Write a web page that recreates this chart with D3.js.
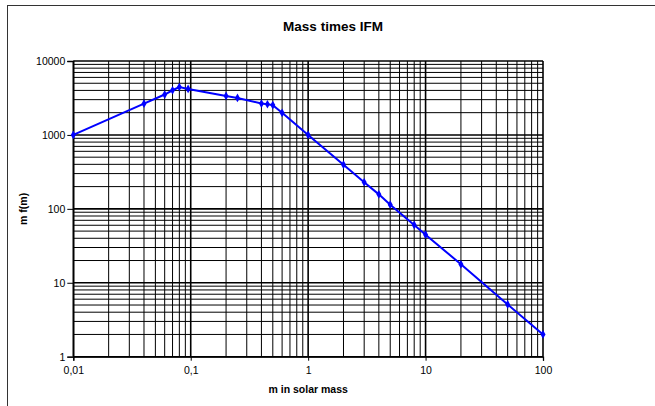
<!DOCTYPE html>
<html>
<head>
<meta charset="utf-8">
<script src="https://cdn.jsdelivr.net/npm/d3@7"></script>
<style>
  body { margin: 0; background: #fff; }
  svg { display: block; font-family: "Liberation Sans", Arial, sans-serif; }
</style>
</head>
<body>
<div id="chart"></div>
<script>
// values (mass in solar masses, m*f(m))
var mass = [0.01, 0.04, 0.06, 0.07, 0.08, 0.095, 0.2, 0.25, 0.4, 0.45, 0.5, 0.6, 1, 2, 3, 4, 5, 8, 10, 20, 50, 100]
var mf = [1000, 2650, 3520, 4020, 4450, 4190, 3370, 3160, 2660, 2600, 2530, 1990, 1000, 396, 229, 157, 114, 60.5, 44.7, 17.8, 5.1, 2.0]
var xTicks = [0.01, 0.1, 1, 10, 100]
var xLabels = ['0,01', '0,1', '1', '10', '100']
var yTicks = [1, 10, 100, 1000, 10000]
var yLabels = ['1', '10', '100', '1000', '10000']

var W = 655, H = 406
var margin = { top: 61, left: 73.3, right: 112, bottom: 49.3 }
var width = W - margin.left - margin.right
var height = H - margin.top - margin.bottom

var svg = d3.select('#chart').append('svg')
    .attr('width', W)
    .attr('height', H)

// chart frame (cropped at right/bottom like the original)
svg.append('rect')
    .attr('x', 7.5).attr('y', 5.5)
    .attr('width', 660).attr('height', 420)
    .attr('fill', '#fff')
    .attr('stroke', '#333')
    .attr('stroke-width', 1)

svg.append('text')
    .attr('x', 333).attr('y', 31)
    .attr('text-anchor', 'middle')
    .attr('font-weight', 'bold')
    .attr('font-size', '13.5px')
    .text('Mass times IFM')

var g = svg.append('g')
    .attr('transform', 'translate(' + margin.left + ',' + margin.top + ')')

var x = d3.scaleLog().domain([0.01, 100]).range([0, width])
var y = d3.scaleLog().domain([1, 10000]).range([height, 0])

// minor + major grid
g.append('g').selectAll('line.vx')
    .data(x.ticks())
    .enter().append('line')
    .attr('x1', d => x(d)).attr('x2', d => x(d))
    .attr('y1', 0).attr('y2', height)
    .attr('stroke', '#000')
    .attr('stroke-width', d => xTicks.indexOf(d) >= 0 ? 1.6 : 1)

g.append('g').selectAll('line.hy')
    .data(y.ticks())
    .enter().append('line')
    .attr('x1', 0).attr('x2', width)
    .attr('y1', d => y(d)).attr('y2', d => y(d))
    .attr('stroke', '#000')
    .attr('stroke-width', d => yTicks.indexOf(d) >= 0 ? 1.6 : 1)

var yAxis = d3.axisLeft(y)
    .tickValues(yTicks)
    .tickSize(6)
    .tickPadding(2)
    .tickFormat((d, i) => yLabels[i])

var xAxis = d3.axisBottom(x)
    .tickValues(xTicks)
    .tickSize(4)
    .tickPadding(6)
    .tickFormat((d, i) => xLabels[i])

var ya = g.append('g').call(yAxis)
var xa = g.append('g').attr('transform', 'translate(0,' + height + ')').call(xAxis)
;[ya, xa].forEach(function (a) {
    a.select('.domain').attr('stroke', '#000').attr('stroke-width', 1.3)
    a.selectAll('.tick line').attr('stroke', '#000')
    a.selectAll('.tick text')
        .attr('fill', '#000')
        .style('font-family', '"Liberation Sans", Arial, sans-serif')
        .style('font-size', '10.5px')
})

g.append('text')
    .attr('x', width / 2).attr('y', height + 36.5)
    .attr('text-anchor', 'middle')
    .attr('font-weight', 'bold')
    .attr('font-size', '10.5px')
    .text('m in solar mass')

g.append('text')
    .attr('transform', 'translate(' + (-46) + ',' + (height / 2) + ') rotate(-90)')
    .attr('text-anchor', 'middle')
    .attr('font-weight', 'bold')
    .attr('font-size', '10.5px')
    .text('m f(m)')

var pts = mass.map((m, i) => ({ m: m, v: mf[i] }))

var line = d3.line()
    .x(d => x(d.m))
    .y(d => y(d.v))

g.append('path')
    .datum(pts)
    .attr('fill', 'none')
    .attr('stroke', '#0000ff')
    .attr('stroke-width', 2)
    .attr('d', line)

g.selectAll('.mark')
    .data(pts)
    .enter().append('path')
    .attr('class', 'mark')
    .attr('transform', d => 'translate(' + x(d.m) + ',' + y(d.v) + ')')
    .attr('d', d3.symbol().type(d3.symbolDiamond).size(22))
    .attr('fill', '#0000ff')
</script>
</body>
</html>
